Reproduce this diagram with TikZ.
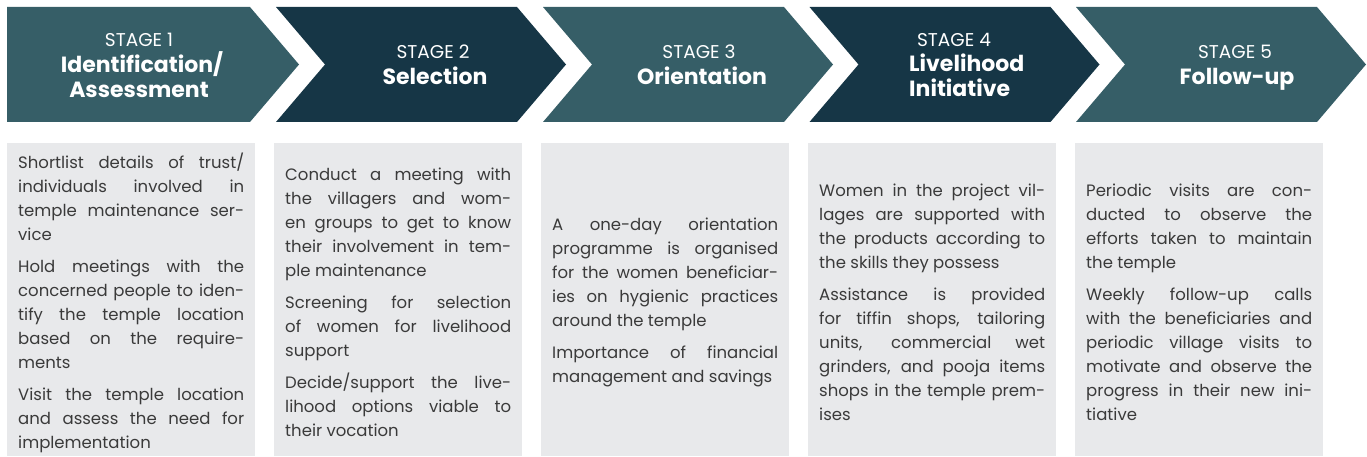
\documentclass[tikz,border=0pt]{standalone}
\usepackage{fontspec}
\setmainfont{Poppins}
\newfontfamily\bodyfont{Poppins}
\newfontfamily\headfont{Poppins}
\definecolor{stageLight}{HTML}{365E67}
\definecolor{stageDark}{HTML}{163646}
\definecolor{boxGray}{HTML}{E8E9EB}
\definecolor{bodyText}{HTML}{3A3A3A}
\tikzset{
  chevLight/.style={fill=stageLight},
  chevDark/.style={fill=stageDark},
  stagelabel/.style={text=white, inner sep=0pt, anchor=base,
    font=\headfont\fontsize{18.5}{20}\selectfont},
  stagetitle/.style={text=white, inner sep=0pt, anchor=base,
    font=\headfont\bfseries\fontsize{22}{24}\selectfont},
  infobox/.style={fill=boxGray, inner sep=0pt, anchor=north west,
    minimum width=248pt, minimum height=313pt},
  infotext/.style={text=bodyText, inner sep=0pt,
    font=\bodyfont\fontsize{16.5}{24}\selectfont},
}
% justified paragraph block with fixed line breaks
\newcommand\stagetext[1]{\parbox[c]{226pt}{\setlength\parindent{0pt}%
  \setlength\parskip{8pt}\hyphenpenalty=10000 \exhyphenpenalty=10000
  \tolerance=10000 \hbadness=10000 \fontsize{16.5}{24}\selectfont #1}}
\begin{document}
\begin{tikzpicture}[x=1pt,y=-1pt]
\useasboundingbox (0,0) rectangle (1367,457);

% chevron band
\fill[chevLight] (7,7) -- (250,7) -- (299,64.5) -- (250,122) -- (7,122) -- cycle;
\fill[chevDark] (276,7) -- (517,7) -- (566,64.5) -- (517,122) -- (276,122) -- (325,64.5) -- cycle;
\fill[chevLight] (543,7) -- (784,7) -- (833,64.5) -- (784,122) -- (543,122) -- (592,64.5) -- cycle;
\fill[chevDark] (809.5,7) -- (1050.5,7) -- (1099.5,64.5) -- (1050.5,122) -- (809.5,122) -- (858.5,64.5) -- cycle;
\fill[chevLight] (1076,7) -- (1317,7) -- (1366,64.5) -- (1317,122) -- (1076,122) -- (1125,64.5) -- cycle;

% stage headings
\node[stagelabel] (h1) at (139,47) {STAGE 1};
\node[stagetitle] (h1a) at (142,73) {Identification/};
\node[stagetitle] (h1b) at (139,98) {Assessment};

\node[stagelabel] (h2) at (433,59) {STAGE 2};
\node[stagetitle] (h2a) at (435,85) {Selection};

\node[stagelabel] (h3) at (699,59) {STAGE 3};
\node[stagetitle] (h3a) at (702,85) {Orientation};

\node[stagelabel] (h4) at (954,47) {STAGE 4};
\node[stagetitle, anchor=base west] (h4a) at (909,72) {Livelihood};
\node[stagetitle, anchor=base west] (h4b) at (909,97) {Initiative};

\node[stagelabel] (h5) at (1235,59) {STAGE 5};
\node[stagetitle] (h5a) at (1237,85) {Follow-up};

% description panels
\node[infobox] (b1) at (7,143) {};
\node[infobox] (b2) at (274,143) {};
\node[infobox] (b3) at (541,143) {};
\node[infobox] (b4) at (808,143) {};
\node[infobox] (b5) at (1075,143) {};

\node[infotext] (t1) at ([yshift=-3pt]b1.center) {\stagetext{%
Shortlist details of trust/\linebreak individuals involved in\linebreak temple maintenance ser-\linebreak vice\par
Hold meetings with the\linebreak concerned people to iden-\linebreak tify the temple location\linebreak based on the require-\linebreak ments\par
Visit the temple location\linebreak and assess the need for\linebreak implementation}};

\node[infotext] (t2) at ([yshift=-3pt]b2.center) {\stagetext{%
Conduct a meeting with\linebreak the villagers and wom-\linebreak en groups to get to know\linebreak their involvement in tem-\linebreak ple maintenance\par
Screening for selection\linebreak of women for livelihood\linebreak support\par
Decide/support the live-\linebreak lihood options viable to\linebreak their vocation}};

\node[infotext] (t3) at ([yshift=-3pt]b3.center) {\stagetext{%
A one-day orientation\linebreak programme is organised\linebreak for the women beneficiar-\linebreak ies on hygienic practices\linebreak around the temple\par
Importance of financial\linebreak management and savings}};

\node[infotext] (t4) at ([yshift=-3pt]b4.center) {\stagetext{%
Women in the project vil-\linebreak lages are supported with\linebreak the products according to\linebreak the skills they possess\par
Assistance is provided\linebreak for tiffin shops, tailoring\linebreak units, commercial wet\linebreak grinders, and pooja items\linebreak shops in the temple prem-\linebreak ises}};

\node[infotext] (t5) at ([yshift=-3pt]b5.center) {\stagetext{%
Periodic visits are con-\linebreak ducted to observe the\linebreak efforts taken to maintain\linebreak the temple\par
Weekly follow-up calls\linebreak with the beneficiaries and\linebreak periodic village visits to\linebreak motivate and observe the\linebreak progress in their new ini-\linebreak tiative}};
\end{tikzpicture}
\end{document}
